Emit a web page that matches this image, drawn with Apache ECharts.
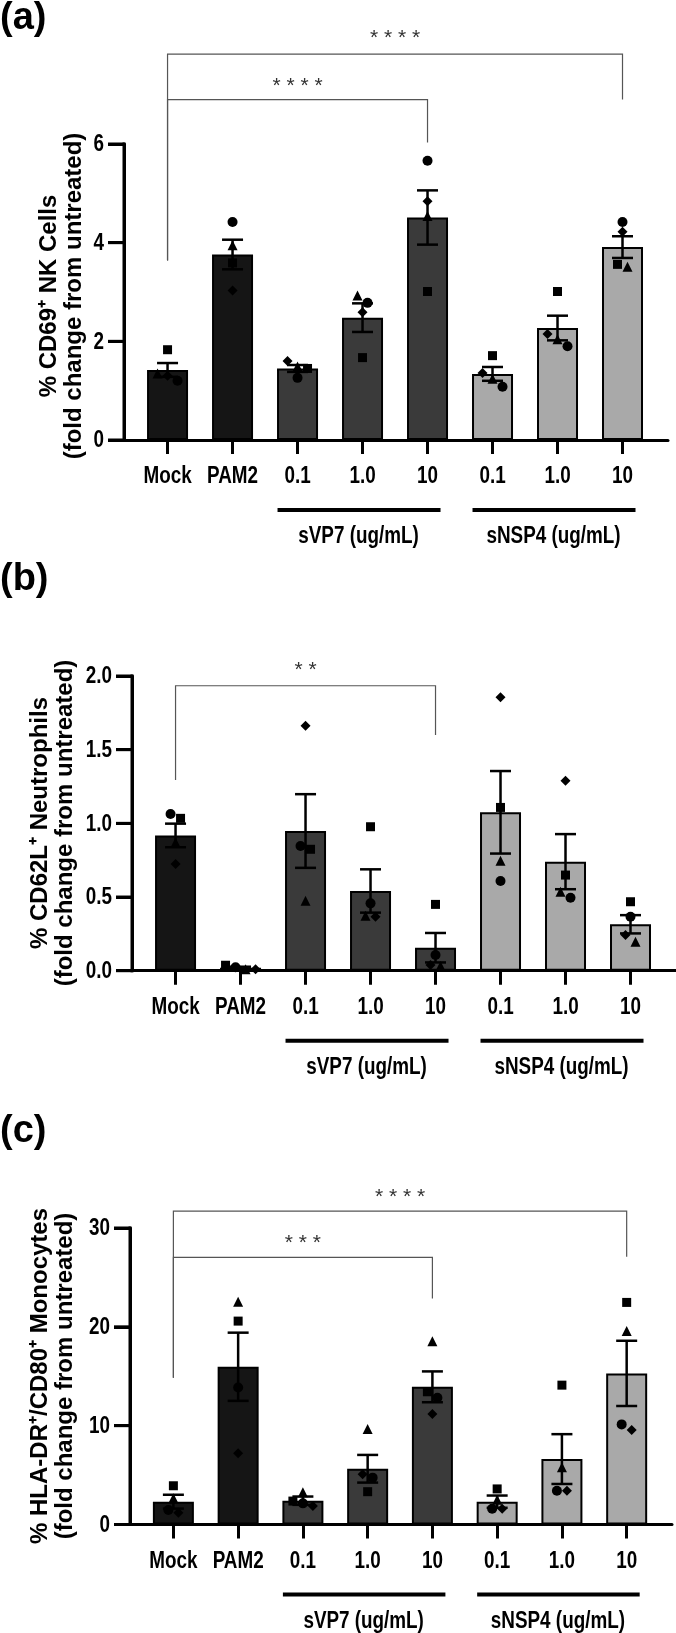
<!DOCTYPE html>
<html><head><meta charset="utf-8">
<script src="https://cdn.jsdelivr.net/npm/echarts@6/dist/echarts.min.js"></script>
<style>html,body{margin:0;padding:0;background:#fff}#c{width:676px;height:1633px}</style>
</head><body><div id="c"></div>
<script>
// ---------- DATA ----------
const categories = ['Mock', 'PAM2', '0.1', '1.0', '10', '0.1', '1.0', '10'];
const groups = [['sVP7 (ug/mL)', 2, 4], ['sNSP4 (ug/mL)', 5, 7]];

// (a) % CD69+ NK cells
const aMean = [1.42, 3.76, 1.45, 2.48, 4.51, 1.34, 2.27, 3.91];
const aSem = [0.14, 0.30, 0.07, 0.29, 0.55, 0.14, 0.25, 0.22];
const aCircle = [1.20, 4.42, 1.26, 2.78, 5.66, 1.08, 1.90, 4.42];
const aSquare = [1.83, 3.59, 1.45, 1.67, 3.01, 1.71, 3.01, 3.56];
const aTriangle = [1.35, 3.95, 1.49, 2.93, 4.54, 1.24, 2.04, 3.51];
const aDiamond = [1.30, 3.03, 1.60, 2.59, 4.84, 1.36, 2.15, 4.22];
const aTicks = [0, 2, 4, 6];
// bracket: [from, to, barY, leftEnd, rightEnd, starsY, stars]
const aBrackets = [[0, 4, 6.90, 3.64, 6.03, 7.28, '****'], [0, 7, 7.82, 3.64, 6.90, 8.24, '****']];

// (b) % CD62L+ neutrophils
const bMean = [0.918, 0.020, 0.948, 0.541, 0.156, 1.075, 0.740, 0.315];
const bSem = [0.080, 0.007, 0.250, 0.147, 0.100, 0.280, 0.187, 0.062];
const bCircle = [1.063, 0.023, 0.846, 0.457, 0.106, 0.609, 0.495, 0.366];
const bSquare = [1.034, 0.037, 0.824, 0.977, 0.450, 1.108, 0.649, 0.468];
const bTriangle = [0.870, 0.010, 0.475, 0.373, 0.032, 0.746, 0.536, 0.197];
const bDiamond = [0.724, 0.010, 1.662, 0.366, 0.039, 1.855, 1.289, 0.242];
const bTicks = [0.0, 0.5, 1.0, 1.5, 2.0];
const bBrackets = [[0, 4, 1.934, 1.294, 1.60, 2.07, '**']];

// (c) % HLA-DR+/CD80+ monocytes
const cMean = [2.31, 15.96, 2.41, 5.64, 13.93, 2.31, 6.62, 15.29];
const cSem = [0.70, 3.45, 0.42, 1.40, 1.56, 0.62, 2.52, 3.30];
const cCircle = [1.47, 13.87, 2.14, 4.74, 12.82, 1.60, 3.42, 10.13];
const cSquare = [3.92, 20.58, 2.37, 3.32, 13.43, 3.60, 14.10, 22.47];
const cTriangle = [2.65, 22.53, 3.26, 9.66, 18.55, 2.50, 5.78, 19.57];
const cDiamond = [1.20, 7.20, 1.87, 5.08, 11.17, 1.60, 3.42, 9.56];
const cTicks = [0, 10, 20, 30];
const cBrackets = [[0, 4, 27.02, 14.84, 22.87, 29.0, '***'], [0, 7, 31.70, 14.84, 27.08, 33.65, '****']];

const panels = [
  {mean: aMean, sem: aSem, pts: [aCircle, aSquare, aTriangle, aDiamond], ticks: aTicks, brackets: aBrackets,
   title: '% CD69⁺ NK Cells\n(fold change from untreated)', tag: '(a)', dec: 0},
  {mean: bMean, sem: bSem, pts: [bCircle, bSquare, bTriangle, bDiamond], ticks: bTicks, brackets: bBrackets,
   title: '% CD62L⁺ Neutrophils\n(fold change from untreated)', tag: '(b)', dec: 1},
  {mean: cMean, sem: cSem, pts: [cCircle, cSquare, cTriangle, cDiamond], ticks: cTicks, brackets: cBrackets,
   title: '% HLA-DR⁺/CD80⁺ Monocytes\n(fold change from untreated)', tag: '(c)', dec: 0}
];

// ---------- STYLE / LAYOUT ----------
const layout = [
  {left: 124, top: 144, width: 544, height: 296, titleX: 62, titleY: 296, tagTop: 0},
  {left: 132, top: 676, width: 544, height: 294.7, titleX: 53, titleY: 823, tagTop: 561},
  {left: 130, top: 1228, width: 542, height: 296.5, titleX: 53, titleY: 1376, tagTop: 1113}
];
const SANS = "'Liberation Sans',Arial,sans-serif";
const NARROW_SCALE = 0.82;   // emulate a condensed bold face
const TICK_LEN = 16;
const barColors = ['#151515', '#151515', '#3a3a3a', '#3a3a3a', '#3a3a3a', '#a9a9a9', '#a9a9a9', '#a9a9a9'];
const shapes = ['circle', 'rect', 'triangle', 'diamond'];
const shapeSize = [10, 9, 10, 10];
const catIdx = categories.map((_, i) => i);
const XMIN = -0.67, XMAX = 7.7;

function narrowText(x, y, text, align) {
  return {type: 'text', x, y, scaleX: NARROW_SCALE, scaleY: 1,
    style: {text, fontSize: 23, fontWeight: 'bold', fontFamily: SANS, fill: '#000', align: align || 'center', verticalAlign: 'middle'}};
}

const chart = echarts.init(document.getElementById('c'), null, {renderer: 'canvas'});

function buildOption(offsets) {
  const grid = [], xAxis = [], yAxis = [], series = [], graphic = [];
  panels.forEach((p, g) => {
    const L = layout[g];
    const t = p.ticks, ymin = t[0], ymax = t[t.length - 1];
    grid.push({left: L.left, top: L.top, width: L.width, height: L.height});
    xAxis.push({
      type: 'value', gridIndex: g, min: XMIN, max: XMAX,
      splitLine: {show: false},
      axisLine: {show: true, onZero: false, lineStyle: {color: '#000', width: 3}},
      axisTick: {show: true, customValues: catIdx, length: 14, lineStyle: {color: '#000', width: 3}},
      axisLabel: {show: false}
    });
    yAxis.push({
      type: 'value', gridIndex: g, min: ymin, max: ymax, interval: t[1] - t[0], position: 'left',
      splitLine: {show: false},
      axisLine: {show: true, onZero: false, lineStyle: {color: '#000', width: 3}},
      axisTick: {show: true, length: TICK_LEN, lineStyle: {color: '#000', width: 3}},
      axisLabel: {show: false}
    });
    // y axis drawn as filled rects + tick labels (placed through the y scale)
    series.push({
      type: 'custom', xAxisIndex: g, yAxisIndex: g, z: 6, clip: false,
      data: t.map(v => [XMIN, v]),
      renderItem: (params, api) => {
        const c = api.coord([api.value(0), api.value(1)]);
        const kids = [
          {type: 'rect', shape: {x: c[0] - TICK_LEN, y: c[1] - 1.5, width: TICK_LEN, height: 3}, style: {fill: '#000'}},
          narrowText(c[0] - TICK_LEN - 4, c[1] + 1, t[params.dataIndex].toFixed(p.dec), 'right')
        ];
        if (params.dataIndex === 0) {
          const top = api.coord([XMIN, ymax]);
          kids.push({type: 'rect', shape: {x: c[0] - 1.5, y: top[1] - 1.5, width: 3, height: c[1] - top[1] + 3}, style: {fill: '#000'}});
        }
        return {type: 'group', children: kids};
      }
    });
    // bars
    series.push({
      type: 'bar', xAxisIndex: g, yAxisIndex: g, barWidth: 41, z: 2,
      data: p.mean.map((m, i) => ({value: [i, m], itemStyle: {color: barColors[i]}})),
      itemStyle: {borderColor: '#000', borderWidth: 2}
    });
    // error bars (mean ± SEM)
    series.push({
      type: 'custom', xAxisIndex: g, yAxisIndex: g, z: 3,
      data: p.mean.map((m, i) => [i, m, p.sem[i]]),
      renderItem: (params, api) => {
        const x = api.value(0), m = api.value(1), s = api.value(2);
        const top = api.coord([x, m + s]), bot = api.coord([x, m - s]);
        const st = {stroke: '#000', lineWidth: 2.5};
        return {type: 'group', children: [
          {type: 'line', shape: {x1: top[0], y1: top[1], x2: bot[0], y2: bot[1]}, style: st},
          {type: 'line', shape: {x1: top[0] - 10.5, y1: top[1], x2: top[0] + 10.5, y2: top[1]}, style: st},
          {type: 'line', shape: {x1: bot[0] - 10.5, y1: bot[1], x2: bot[0] + 10.5, y2: bot[1]}, style: st}
        ]};
      }
    });
    // individual points
    p.pts.forEach((arr, s) => {
      series.push({
        type: 'scatter', xAxisIndex: g, yAxisIndex: g, z: 5,
        symbol: shapes[s], symbolSize: shapeSize[s],
        itemStyle: {color: '#000', opacity: 1},
        data: arr.map((v, i) => ({value: [i, v], symbolOffset: [offsets ? offsets[g][s][i] : 0, 0]}))
      });
    });
    // category labels (x axis)
    series.push({
      type: 'custom', xAxisIndex: g, yAxisIndex: g, z: 4, clip: false,
      data: catIdx.map(i => [i, ymin]),
      renderItem: (params, api) => {
        const c = api.coord([api.value(0), api.value(1)]);
        return narrowText(c[0], c[1] + 37, categories[params.dataIndex]);
      }
    });
    // significance brackets
    series.push({
      type: 'custom', xAxisIndex: g, yAxisIndex: g, z: 4, clip: false,
      data: p.brackets.map(b => b.slice(0, 6)),
      renderItem: (params, api) => {
        const b = p.brackets[params.dataIndex];
        const pL = api.coord([b[0], b[2]]), pR = api.coord([b[1], b[2]]);
        const lEnd = api.coord([b[0], b[3]]), rEnd = api.coord([b[1], b[4]]);
        const sY = api.coord([(b[0] + b[1]) / 2, b[5]]);
        const st = {stroke: '#555', lineWidth: 1.2, fill: null};
        return {type: 'group', children: [
          {type: 'polyline', shape: {points: [[lEnd[0], lEnd[1]], [pL[0], pL[1]], [pR[0], pR[1]], [rEnd[0], rEnd[1]]]}, style: st},
          {type: 'text', x: sY[0], y: sY[1] + 5, style: {text: b[6].split('').join(' '), fontSize: 21,
            fontFamily: SANS, fill: '#333', align: 'center', verticalAlign: 'middle'}}
        ]};
      }
    });
    // group underlines + labels
    series.push({
      type: 'custom', xAxisIndex: g, yAxisIndex: g, z: 4, clip: false,
      data: groups.map(gr => [gr[1], gr[2]]),
      renderItem: (params, api) => {
        const gr = groups[params.dataIndex];
        const a0 = api.coord([gr[1], ymin]), a1 = api.coord([gr[2], ymin]);
        const y = a0[1];
        return {type: 'group', children: [
          {type: 'line', shape: {x1: a0[0] - 20, y1: y + 70, x2: a1[0] + 13, y2: y + 70}, style: {stroke: '#000', lineWidth: 4}},
          narrowText((a0[0] + a1[0]) / 2 - 4, y + 97, gr[0])
        ]};
      }
    });
    graphic.push({type: 'text', left: 0, top: L.tagTop, style: {text: p.tag, fontSize: 38, fontWeight: 'bold', fontFamily: SANS, fill: '#000'}});
    graphic.push({type: 'text', x: L.titleX, y: L.titleY, rotation: Math.PI / 2,
      style: {text: p.title, fontSize: 24, fontWeight: 'bold', fontFamily: SANS, fill: '#000', lineHeight: 25,
        align: 'center', verticalAlign: 'middle'}});
  });
  return {backgroundColor: '#fff', animation: false, grid, xAxis, yAxis, series, graphic};
}

chart.setOption(buildOption(null));

// spread overlapping points horizontally (like a scatter-dot plot)
const offsets = panels.map((p, g) => p.pts.map(() => p.mean.map(() => 0)));
panels.forEach((p, g) => {
  p.mean.forEach((_, i) => {
    const items = p.pts.map((arr, s) => ({s, y: chart.convertToPixel({gridIndex: g}, [i, arr[i]])[1]}));
    items.sort((u, v) => u.y - v.y);
    let cluster = [items[0]];
    const flush = () => {
      const n = cluster.length;
      cluster.forEach((it, k) => { offsets[g][it.s][i] = n > 1 ? (k - (n - 1) / 2) * 10 : 0; });
    };
    for (let k = 1; k < items.length; k++) {
      if (items[k].y - cluster[cluster.length - 1].y < 8) cluster.push(items[k]);
      else { flush(); cluster = [items[k]]; }
    }
    flush();
  });
});
chart.setOption(buildOption(offsets), true);
</script></body></html>
